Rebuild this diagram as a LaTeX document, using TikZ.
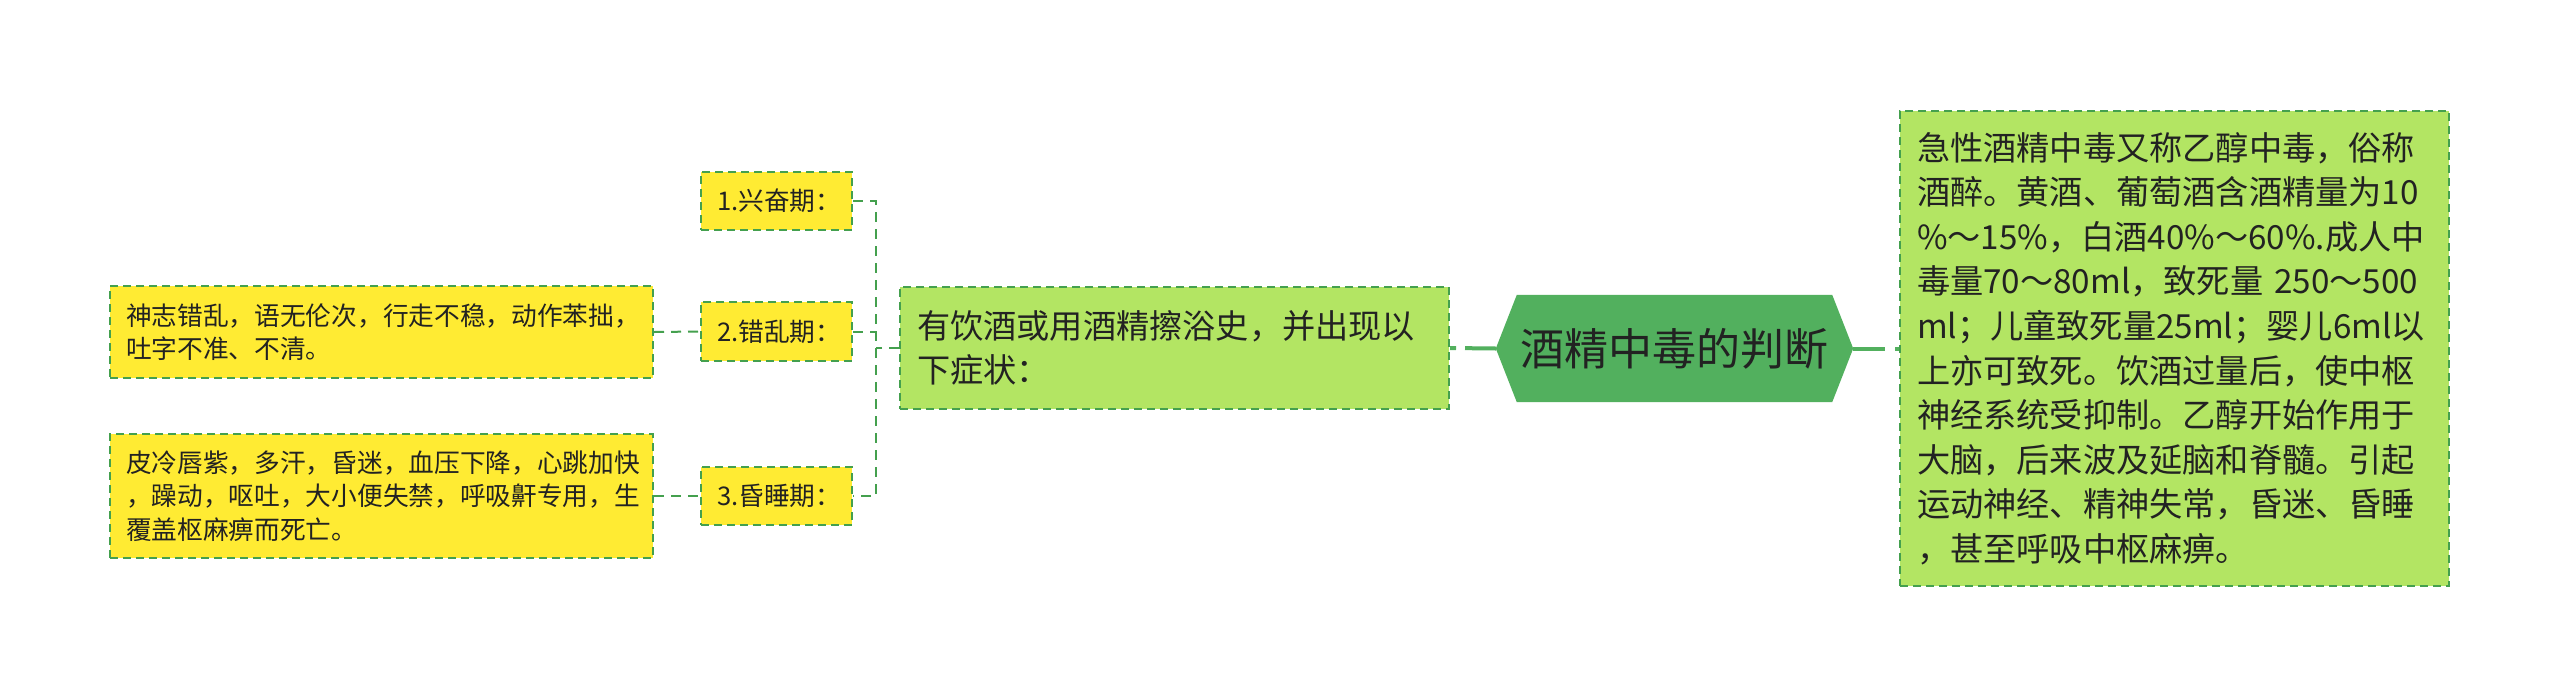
\documentclass[tikz,border=0pt]{standalone}
\usepackage{fontspec}
\setmainfont{Noto Sans CJK SC}
\usetikzlibrary{backgrounds}
\definecolor{hexgreen}{RGB}{82,176,94}
\definecolor{lightgreen}{RGB}{179,229,99}
\definecolor{yellowfill}{RGB}{255,235,51}
\definecolor{bordergreen}{RGB}{68,160,78}
\definecolor{txt}{RGB}{34,34,34}
\begin{document}
\begin{tikzpicture}[x=1pt,y=-1pt,
  box/.style={draw=bordergreen, line width=2pt, dash pattern=on 8pt off 5pt,
    inner sep=0pt, align=left, text=txt},
  ybox/.style={box, fill=yellowfill},
  gbox/.style={box, fill=lightgreen},
  smalltext/.style={font=\fontsize{25.7pt}{33.3pt}\selectfont},
  midtext/.style={font=\fontsize{33.2pt}{44.6pt}\selectfont},
  conn/.style={draw=bordergreen, line width=2pt, dash pattern=on 10pt off 7pt},
  rootconn/.style={draw=hexgreen, line width=4pt}]
\useasboundingbox (0,0) rectangle (2560,697);

% root
\node[inner sep=0pt, minimum width=357pt, minimum height=107pt, text=txt,
  font=\fontsize{44pt}{52pt}\selectfont] (hex) at (1674.5,348.5) {酒精中毒的判断};
\begin{scope}[on background layer]
\fill[white] (0,0) rectangle (2560,697);
\fill[hexgreen] (hex.west) -- ([xshift=21pt]hex.north west) -- ([xshift=-21pt]hex.north east)
  -- (hex.east) -- ([xshift=-21pt]hex.south east) -- ([xshift=21pt]hex.south west) -- cycle;
\end{scope}

% right description
\node[gbox, midtext, minimum width=549pt, minimum height=475pt, text width=515pt] (R) at (2174.5,348.5)
{急性酒精中毒又称乙醇中毒，俗称\\
酒醉。黄酒、葡萄酒含酒精量为10\\
\%～15\%，白酒40\%～60\%.成人中\\
毒量70～80ml，致死量 250～500\\
ml；儿童致死量25ml；婴儿6ml以\\
上亦可致死。饮酒过量后，使中枢\\
神经系统受抑制。乙醇开始作用于\\
大脑，后来波及延脑和脊髓。引起\\
运动神经、精神失常，昏迷、昏睡\\
，甚至呼吸中枢麻痹。};

% middle
\node[gbox, midtext, minimum width=549pt, minimum height=122pt, text width=515pt] (M) at (1174.5,348)
{有饮酒或用酒精擦浴史，并出现以\\下症状：};

% periods
\node[ybox, smalltext, minimum width=151pt, minimum height=58pt, text width=119pt] (p1) at (776.5,201) {1.兴奋期：};
\node[ybox, smalltext, minimum width=151pt, minimum height=59pt, text width=119pt] (p2) at (776.5,331.5) {2.错乱期：};
\node[ybox, smalltext, minimum width=151pt, minimum height=58pt, text width=119pt] (p3) at (776.5,496) {3.昏睡期：};

% left details
\node[ybox, smalltext, minimum width=543pt, minimum height=92pt, text width=511pt] (L2) at (381.5,332)
{神志错乱，语无伦次，行走不稳，动作苯拙，\\吐字不准、不清。};
\node[ybox, smalltext, minimum width=543pt, minimum height=124pt, text width=511pt] (L3) at (381.5,496)
{皮冷唇紫，多汗，昏迷，血压下降，心跳加快\\，躁动，呕吐，大小便失禁，呼吸鼾专用，生\\覆盖枢麻痹而死亡。};

% connectors
\draw[rootconn, dash pattern=on 6pt off 9pt on 40pt] (M.east) -- (hex.west);
\draw[rootconn, dash pattern=on 32pt off 10pt on 10pt] (hex.east) -- (R.west);
\coordinate (j) at (876,348);
\draw[conn] (M.west) -- (j);
\draw[conn] (p1.east) -- (p1.east -| j) |- (p3.east);
\draw[conn] (p2.east) -- (p2.east -| j);
\draw[conn] (L2.east) -- (p2.west);
\draw[conn] (L3.east) -- (p3.west);
\end{tikzpicture}
\end{document}
